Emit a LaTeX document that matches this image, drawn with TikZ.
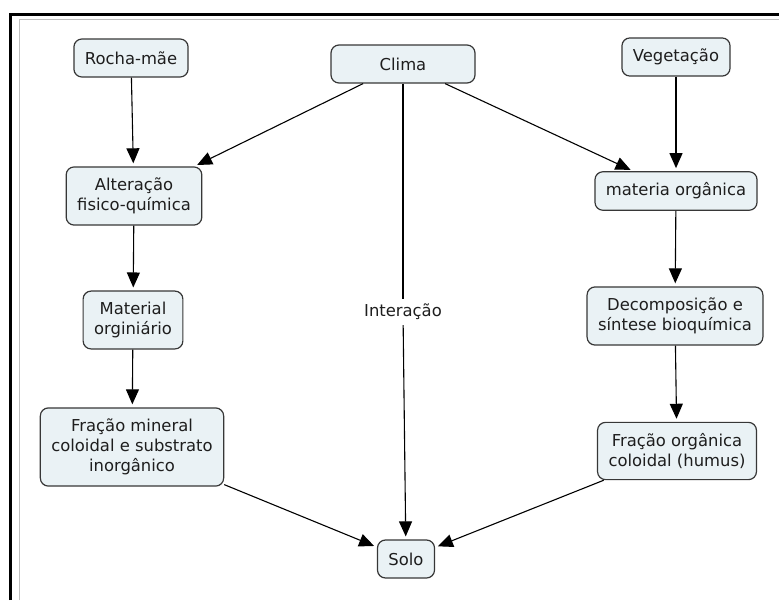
\documentclass[tikz,border=0pt]{standalone}
\usepackage{fontspec}
\setmainfont{DejaVu Sans}
\usetikzlibrary{arrows.meta}
\definecolor{boxfill}{RGB}{234,242,245}
\definecolor{boxline}{RGB}{55,55,55}
\definecolor{inktext}{RGB}{30,30,30}

\begin{document}
\begin{tikzpicture}[x=1pt, y=-1pt, font=\fontsize{16.4}{20}\selectfont, text=inktext,
		concept/.style={draw=boxline, fill=boxfill, rounded corners=8pt, line width=1.2pt, align=center, inner xsep=11pt, inner ysep=11pt, minimum height=38pt},
		phrase/.style={fill=white, inner sep=5pt},
		link/.style={-{Triangle[length=15pt,width=13pt]}, line width=1.1pt, shorten >=3pt}]
		\useasboundingbox (0,0) rectangle (779,600);
		%frame
		\draw[line width=3pt] (10,600) -- (10,14) -- (779,14);
		\draw[lightgray] (19.5,600) -- (19.5,19.5) -- (779,19.5);
		
		%top row
		\node[concept] (rocha) at (131,58) {Rocha-mãe};
		\node[concept, minimum width=144pt] (clima) at (403,64) {Clima};
		\node[concept] (veg) at (676,57) {Vegetação};
		
		%left column
		\node[concept] (alter) at (134,196) {Alteração\\fisico-química};
		\node[concept] (material) at (133,320) {Material\\orginiário};
		\node[concept] (fmin) at (132,447) {Fração mineral\\coloidal e substrato\\inorgânico};
		
		%right column
		\node[concept] (materia) at (676,191) {materia orgânica};
		\node[concept] (decomp) at (675,316) {Decomposição e\\síntese bioquímica};
		\node[concept] (forg) at (677,451) {Fração orgânica\\coloidal (humus)};
		
		\node[concept] (solo) at (406,559) {Solo};
		\node[phrase] (inter) at (403,312) {Interação};
		
		%links
		\draw[link] (rocha) -- (alter);
		\draw[link] (alter) -- (material);
		\draw[link] (material) -- (fmin);
		\draw[link] (fmin) -- (solo);
		\draw[link] (veg) -- (materia);
		\draw[link] (materia) -- (decomp);
		\draw[link] (decomp) -- (forg);
		\draw[link] (forg) -- (solo);
		\draw[link] (clima) -- (alter);
		\draw[link] (clima) -- (materia);
		\draw[line width=1.1pt] (clima) -- (inter);
		\draw[link] (inter) -- (solo);
\end{tikzpicture}
\end{document}
